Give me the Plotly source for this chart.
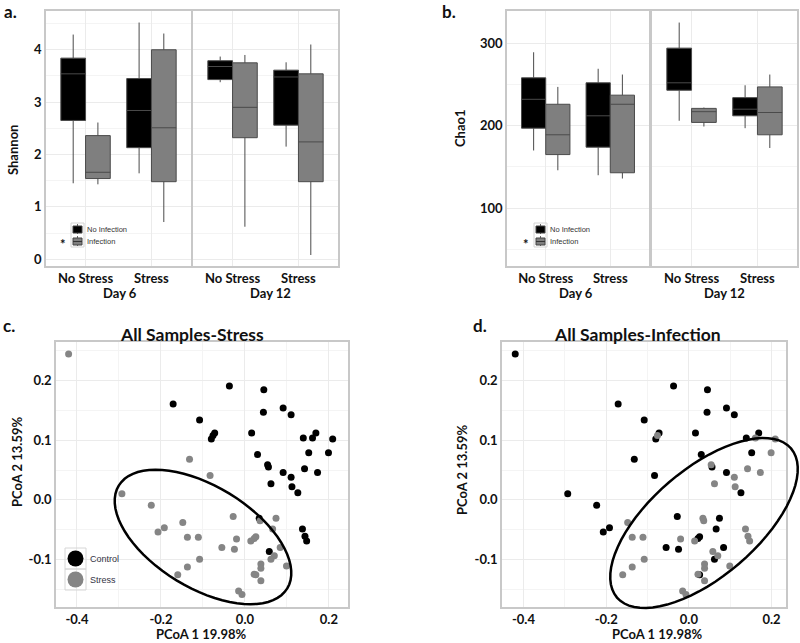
import numpy as np
import plotly.graph_objects as go

W, H = 800, 643
FONT = "Lato"

stress_cats = ["No Stress", "Stress"]

# five-number summaries per stress category: [low whisker, q1, median, q3, high whisker]
shannon_d6_noinf = [[1.45, 2.65, 3.54, 3.84, 4.29], [1.64, 2.13, 2.84, 3.45, 4.52]]
shannon_d6_inf = [[1.43, 1.54, 1.66, 2.36, 2.61], [0.71, 1.48, 2.51, 4.00, 4.31]]
shannon_d12_noinf = [[3.38, 3.43, 3.68, 3.79, 3.87], [2.15, 2.56, 3.48, 3.61, 3.76]]
shannon_d12_inf = [[0.62, 2.32, 2.90, 3.75, 3.90], [0.08, 1.48, 2.24, 3.54, 4.10]]

chao_d6_noinf = [[170, 197, 232, 258, 289], [140, 174, 212, 252, 269]]
chao_d6_inf = [[146, 165, 189, 226, 247], [136, 143, 226, 237, 262]]
chao_d12_noinf = [[206, 243, 252, 294, 325], [197, 212, 220, 234, 249]]
chao_d12_inf = [[199, 204, 217, 221, 222], [173, 189, 216, 247, 262]]

# PCoA coordinates of all samples
pc1 = [-0.420, -0.037, 0.045, -0.171, 0.091, 0.044, 0.110, -0.108, -0.072, -0.076,
       -0.080, 0.016, 0.139, 0.161, 0.169, 0.209, 0.030, 0.152, 0.199, 0.054,
       0.056, 0.091, 0.142, 0.173, 0.110, 0.062, 0.112, 0.126, -0.132, -0.083,
       -0.293, -0.223, -0.207, -0.192, -0.148, -0.137, -0.111, -0.108, -0.137, -0.160,
       -0.028, 0.034, 0.036, 0.074, 0.066, -0.020, 0.014, 0.022, 0.026, -0.055,
       -0.025, 0.084, 0.058, 0.070, 0.062, 0.038, 0.038, 0.099, 0.022, 0.026,
       0.038, -0.015, -0.007, 0.137, 0.143, 0.147]
pc2 = [0.245, 0.191, 0.185, 0.161, 0.154, 0.147, 0.143, 0.134, 0.112, 0.108,
       0.102, 0.112, 0.104, 0.104, 0.112, 0.102, 0.076, 0.079, 0.079, 0.059,
       0.055, 0.046, 0.052, 0.046, 0.038, 0.027, 0.022, 0.012, 0.068, 0.041,
       0.010, -0.009, -0.054, -0.047, -0.038, -0.063, -0.063, -0.100, -0.113, -0.126,
       -0.028, -0.031, -0.035, -0.031, -0.049, -0.066, -0.069, -0.065, -0.062, -0.080,
       -0.083, -0.080, -0.087, -0.094, -0.100, -0.108, -0.115, -0.111, -0.125, -0.126,
       -0.136, -0.153, -0.159, -0.049, -0.061, -0.069]
stress_grp = (["Stress"] + ["Control"] * 27 + ["Stress"] * 13 + ["Control", "Stress", "Stress",
              "Stress", "Stress", "Stress", "Stress", "Stress", "Stress", "Stress", "Stress",
              "Control"] + ["Stress"] * 10 + ["Control"] * 3)
infection_grp = ["No Infection", "No Infection", "No Infection", "No Infection", "No Infection",
                 "No Infection", "No Infection", "No Infection", "No Infection", "Infection",
                 "No Infection", "No Infection", "No Infection", "Infection", "No Infection",
                 "Infection", "No Infection", "No Infection", "Infection", "Infection",
                 "No Infection", "No Infection", "Infection", "Infection", "Infection",
                 "Infection", "Infection", "No Infection", "No Infection", "No Infection",
                 "No Infection", "No Infection", "No Infection", "No Infection", "Infection",
                 "Infection", "Infection", "Infection", "Infection", "Infection",
                 "No Infection", "Infection", "Infection", "No Infection", "No Infection",
                 "Infection", "Infection", "No Infection", "No Infection", "No Infection",
                 "No Infection", "No Infection", "Infection", "Infection", "No Infection",
                 "Infection", "Infection", "Infection", "Infection", "No Infection",
                 "Infection", "Infection", "Infection", "Infection", "Infection", "Infection"]

BLACK = "#000000"
GRAY = "#858585"
BOXGRAY = "#7f7f7f"


def fx(px):
    return px / W


def fy(py):
    return 1 - py / H


def dom_x(x0, x1):
    return [fx(x0), fx(x1)]


def dom_y(y0, y1):
    return [fy(y1), fy(y0)]


fig = go.Figure()


def add_box(stats, name, fill, xa, ya, group):
    s = np.array(stats, dtype=float)
    fig.add_trace(go.Box(x=stress_cats, lowerfence=s[:, 0], q1=s[:, 1], median=s[:, 2],
                         q3=s[:, 3], upperfence=s[:, 4], name=name, fillcolor=fill,
                         line=dict(color="#4a4a4a", width=1), whiskerwidth=0,
                         alignmentgroup=group, offsetgroup=name,
                         xaxis=xa, yaxis=ya, showlegend=False))


add_box(shannon_d6_noinf, "No Infection", BLACK, "x", "y", "a6")
add_box(shannon_d6_inf, "Infection", BOXGRAY, "x", "y", "a6")
add_box(shannon_d12_noinf, "No Infection", BLACK, "x2", "y2", "a12")
add_box(shannon_d12_inf, "Infection", BOXGRAY, "x2", "y2", "a12")
add_box(chao_d6_noinf, "No Infection", BLACK, "x3", "y3", "b6")
add_box(chao_d6_inf, "Infection", BOXGRAY, "x3", "y3", "b6")
add_box(chao_d12_noinf, "No Infection", BLACK, "x4", "y4", "b12")
add_box(chao_d12_inf, "Infection", BOXGRAY, "x4", "y4", "b12")

x_arr = np.array(pc1)
y_arr = np.array(pc2)
s_arr = np.array(stress_grp)
i_arr = np.array(infection_grp)

for grp, col in [("Control", BLACK), ("Stress", GRAY)]:
    m = s_arr == grp
    fig.add_trace(go.Scatter(x=x_arr[m], y=y_arr[m], mode="markers", name=grp,
                             marker=dict(color=col, size=7), xaxis="x5", yaxis="y5",
                             showlegend=False))
for grp, col in [("No Infection", BLACK), ("Infection", GRAY)]:
    m = i_arr == grp
    fig.add_trace(go.Scatter(x=x_arr[m], y=y_arr[m], mode="markers", name=grp,
                             marker=dict(color=col, size=7), xaxis="x6", yaxis="y6",
                             showlegend=False))

tick_font = dict(family=FONT, size=13, color="#111111", weight="bold")
base = dict(showline=True, mirror=True, linecolor="#c8c8c8", linewidth=1.5, zeroline=False,
            ticks="", automargin=False, fixedrange=True, showgrid=True, gridcolor="#ebebeb",
            tickfont=tick_font)
cat_x = dict(base, type="category", categoryorder="array", categoryarray=stress_cats,
             range=[-0.6, 1.6])

sh_range = [-0.13, 4.74]
ch_range = [30, 339]
pc_xticks = [-0.4, -0.2, 0.0, 0.2]
pc_yticks = [-0.1, 0.0, 0.1, 0.2]
pcx_c = [-0.450, 0.2455]
pcx_d = [-0.452, 0.235]
pcy = [-0.180, 0.265]


def lin_axis(rng, vals, minor, labels=True, fmt=None):
    d = dict(base, range=rng, tickvals=vals, showticklabels=labels,
             minor=dict(showgrid=True, gridcolor="#f4f4f4", dtick=minor, ticks=""))
    if fmt:
        d["ticktext"] = [fmt.format(v) for v in vals]
    return d


fig.update_layout(
    width=W, height=H, margin=dict(l=0, r=0, t=0, b=0),
    template="none", paper_bgcolor="white", plot_bgcolor="rgba(0,0,0,0)",
    font=dict(family=FONT, color="#111111"),
    boxmode="group", boxgap=0.25, boxgroupgap=0, showlegend=False,
    xaxis=dict(cat_x, domain=dom_x(46, 191), anchor="y"),
    yaxis=dict(lin_axis(sh_range, [0, 1, 2, 3, 4], 0.5), domain=dom_y(11, 266), anchor="x"),
    xaxis2=dict(cat_x, domain=dom_x(193, 338), anchor="y2"),
    yaxis2=dict(lin_axis(sh_range, [0, 1, 2, 3, 4], 0.5, labels=False), domain=dom_y(11, 266), anchor="x2"),
    xaxis3=dict(cat_x, domain=dom_x(507, 649), anchor="y3"),
    yaxis3=dict(lin_axis(ch_range, [100, 200, 300], 50), domain=dom_y(11, 266), anchor="x3"),
    xaxis4=dict(cat_x, domain=dom_x(652, 797), anchor="y4"),
    yaxis4=dict(lin_axis(ch_range, [100, 200, 300], 50, labels=False), domain=dom_y(11, 266), anchor="x4"),
    xaxis5=dict(lin_axis(pcx_c, pc_xticks, 0.1, fmt="{:.1f}"), domain=dom_x(56, 348), anchor="y5"),
    yaxis5=dict(lin_axis(pcy, pc_yticks, 0.05, fmt="{:.1f}"), domain=dom_y(342, 607), anchor="x5"),
    xaxis6=dict(lin_axis(pcx_d, pc_xticks, 0.1, fmt="{:.1f}"), domain=dom_x(502, 786), anchor="y6"),
    yaxis6=dict(lin_axis(pcy, pc_yticks, 0.05, fmt="{:.1f}"), domain=dom_y(342, 607), anchor="x6"),
)

annotations = []
shapes = []


def label(text, x, y, size=13, xanchor="center", angle=0, bold=True, family=FONT, color="#111111"):
    annotations.append(dict(text=text, x=fx(x), y=fy(y), xref="paper", yref="paper",
                            xanchor=xanchor, yanchor="middle", showarrow=False, textangle=angle,
                            font=dict(family=family, size=size, color=color,
                                      weight="bold" if bold else "normal")))


label("a.", 2, 11, size=17, xanchor="left")
label("b.", 440, 11, size=17, xanchor="left")
label("c.", 1, 325, size=17, xanchor="left")
label("d.", 471, 325, size=17, xanchor="left")
label("Shannon", 13, 150, angle=-90)
label("Chao1", 460, 128, angle=-90)
label("Day 6", 120, 293)
label("Day 12", 270, 293)
label("Day 6", 576, 293)
label("Day 12", 724, 293)
label("All Samples-Stress", 192, 334, size=17.5)
label("All Samples-Infection", 637, 334, size=17.5)
label("PCoA 1 19.98%", 201, 634)
label("PCoA 1 19.98%", 657, 634)
label("PCoA 2 13.59%", 17, 462, angle=-90)
label("PCoA 2 13.59%", 462, 470, angle=-90)


def rect(x0, y0, x1, y1, fill=None, line="#444444", width=1):
    shapes.append(dict(type="rect", xref="paper", yref="paper", x0=fx(x0), x1=fx(x1),
                       y0=fy(y1), y1=fy(y0), fillcolor=fill or "rgba(0,0,0,0)",
                       line=dict(color=line, width=width)))


def seg(x0, y0, x1, y1, color="#666666", width=1):
    shapes.append(dict(type="line", xref="paper", yref="paper", x0=fx(x0), x1=fx(x1),
                       y0=fy(y0), y1=fy(y1), line=dict(color=color, width=width)))


def circle(cx, cy, r, fill):
    shapes.append(dict(type="circle", xref="paper", yref="paper", x0=fx(cx - r), x1=fx(cx + r),
                       y0=fy(cy + r), y1=fy(cy - r), fillcolor=fill,
                       line=dict(color=fill, width=0)))


def box_key(x0, y0):
    # legend of the box panels
    rect(x0, y0, x0 + 13, y0 + 24, line="#d4d4d4")
    seg(x0 + 6.5, y0 + 1, x0 + 6.5, y0 + 11)
    rect(x0 + 2, y0 + 3, x0 + 11, y0 + 10, fill=BLACK)
    seg(x0 + 6.5, y0 + 13, x0 + 6.5, y0 + 23)
    rect(x0 + 2, y0 + 15, x0 + 11, y0 + 22, fill=BOXGRAY)
    seg(x0 + 2, y0 + 18.5, x0 + 11, y0 + 18.5, color="#333333")
    label("No Infection", x0 + 14, y0 + 6.5, size=7.5, xanchor="left", bold=False,
          family="Liberation Sans", color="#333333")
    label("Infection", x0 + 14, y0 + 18, size=7.5, xanchor="left", bold=False,
          family="Liberation Sans", color="#333333")
    label("*", x0 - 8, y0 + 21, size=13)


box_key(71, 223)
box_key(534, 223)

# legend of panel c
rect(65, 548, 86, 569, line="#d6d6d6")
rect(65, 569, 86, 590, line="#d6d6d6")
circle(75.5, 558.5, 8, BLACK)
circle(75.5, 579.5, 8, GRAY)
label("Control", 88, 558.5, size=9, xanchor="left", bold=False, family="Liberation Sans", color="#333344")
label("Stress", 88, 579.5, size=9, xanchor="left", bold=False, family="Liberation Sans", color="#333344")


def ellipse_path(cx, cy, a, b, angle_deg, n=72):
    # hand-drawn style ellipse overlay (in figure pixels), angle counter-clockwise
    t = np.linspace(0, 2 * np.pi, n, endpoint=False)
    ph = np.radians(angle_deg)
    xs = cx + a * np.cos(t) * np.cos(ph) - b * np.sin(t) * np.sin(ph)
    ys = cy - (a * np.cos(t) * np.sin(ph) + b * np.sin(t) * np.cos(ph))
    return "M " + " L ".join(f"{fx(x):.5f},{fy(y):.5f}" for x, y in zip(xs, ys)) + " Z"


for cx, cy, a, b, ang in [(203, 537, 98.7, 50.8, -31.4), (704, 523, 114.6, 53.7, 40.6)]:
    shapes.append(dict(type="path", xref="paper", yref="paper", path=ellipse_path(cx, cy, a, b, ang),
                       line=dict(color=BLACK, width=2.5), fillcolor="rgba(0,0,0,0)"))

fig.update_layout(annotations=annotations, shapes=shapes)
# drop the default page margin so the figure sits at the window's corner
fig.write_html("out.html", config={"displayModeBar": False},
               post_script="document.body.style.margin = '0px';")
